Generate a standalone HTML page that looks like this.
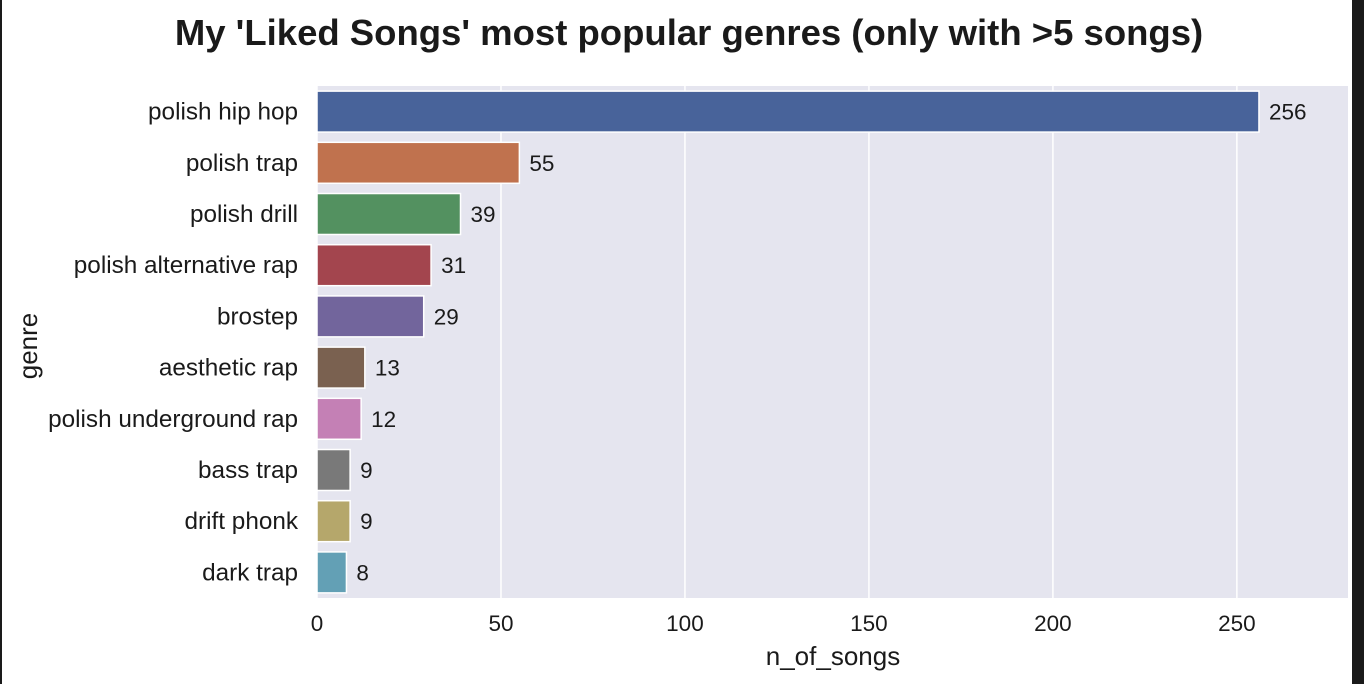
<!DOCTYPE html>
<html><head><meta charset="utf-8"><style>
html,body{margin:0;padding:0;background:#fff;}
svg{display:block;font-family:"Liberation Sans",Arial,sans-serif;}
</style></head><body>
<svg id="chart" width="1364" height="684">
<rect x="0" y="0" width="2" height="684" fill="#1a1a1a"/>
<rect x="1352" y="0" width="12" height="684" fill="#1a1a1a"/>
<text x="689" y="45" text-anchor="middle" font-size="36.5" font-weight="bold" fill="#1a1a1a">My 'Liked Songs' most popular genres (only with &gt;5 songs)</text>
<rect x="317" y="86" width="1031" height="512" fill="#e5e5ef"/>
<g id="grid"></g><g id="bars"></g><g id="labels"></g>
<text x="833" y="665" text-anchor="middle" font-size="26" fill="#1a1a1a">n_of_songs</text>
<text transform="translate(37,346) rotate(-90)" text-anchor="middle" font-size="26" fill="#1a1a1a">genre</text>
</svg>
<script>
const categories=["polish hip hop","polish trap","polish drill","polish alternative rap","brostep","aesthetic rap","polish underground rap","bass trap","drift phonk","dark trap"];
const values=[256,55,39,31,29,13,12,9,9,8];
const colors=["#48639a","#c0724e","#539160","#a3454e","#72659c","#7a6150","#c480b5","#797979","#b5a76b","#63a0b5"];
const ticks=[0,50,100,150,200,250];
const X0=317,X1=1348,XMAX=280.2,Y0=86,Y1=598;
const ns="http://www.w3.org/2000/svg";
const xs=v=>X0+v/XMAX*(X1-X0);
const band=(Y1-Y0)/categories.length;
const g=document.getElementById('grid'),b=document.getElementById('bars'),l=document.getElementById('labels');
function mk(t,a){const e=document.createElementNS(ns,t);for(const k in a)e.setAttribute(k,a[k]);return e;}
ticks.forEach(t=>{
 const ln=mk('line',{x1:xs(t),x2:xs(t),y1:Y0,y2:Y1,stroke:'#fff','stroke-width':1.5});
 
 
 g.appendChild(ln);
 const tx=mk('text',{x:xs(t),y:631,'text-anchor':'middle','font-size':22.5,fill:'#1a1a1a'});
 tx.textContent=t;
 
 
 l.appendChild(tx);
});
categories.forEach((c,i)=>{
 const cy=Y0+band*(i+0.5),h=band*0.8;
 const r=mk('rect',{x:X0,y:cy-h/2,width:xs(values[i])-X0,height:h,fill:colors[i],stroke:'#fff','stroke-width':1.5});
 
 
 b.appendChild(r);
 const vt=mk('text',{x:xs(values[i])+10,y:cy+8,'font-size':22.5,fill:'#1a1a1a'});
 vt.textContent=values[i];
 
 
 l.appendChild(vt);
 const ct=mk('text',{x:298,y:cy+8,'text-anchor':'end','font-size':24.3,fill:'#1a1a1a'});
 ct.textContent=c;
 
 
 l.appendChild(ct);
});
</script>
</body></html>
